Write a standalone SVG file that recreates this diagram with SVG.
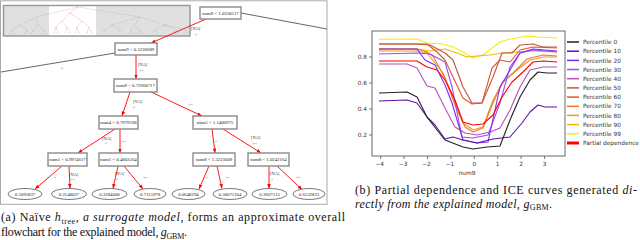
<svg xmlns="http://www.w3.org/2000/svg" width="640" height="240" viewBox="0 0 640 240">
<style>
.nb{fill:#fff;stroke:#8a8a8a;stroke-width:1.4}
.lf{fill:#fff;stroke:#555;stroke-width:0.8}
.nt{font-family:"Liberation Serif",serif;font-size:4.8px;fill:#222;text-anchor:middle}
.el{font-family:"Liberation Serif",serif;font-size:4.4px;fill:#333}
.ra{stroke:#f00;stroke-width:0.9;fill:none;marker-end:url(#ar)}
.gl{stroke:#555;stroke-width:0.9;fill:none}
.td{stroke:#a8a8a8;stroke-width:0.5;fill:none;stroke-dasharray:1 0.8}
.tr{stroke:#e87070;stroke-width:0.5;fill:none;stroke-dasharray:1 0.8}
.ax{font-family:"DejaVu Sans",sans-serif;font-size:5.8px;fill:#333}
.lg{font-family:"DejaVu Sans",sans-serif;font-size:5.8px;fill:#333}
.cv{fill:none;stroke-width:1.1;stroke-linejoin:round}
.cap{font-family:"Liberation Serif",serif;font-size:12px;fill:#111}
.it{font-style:italic}
.sb{font-size:8px}
</style>
<defs>
<marker id="ar" viewBox="0 0 10 10" refX="10" refY="5" markerWidth="4.5" markerHeight="4.5" markerUnits="userSpaceOnUse" orient="auto"><path d="M0,1 L10,5 L0,9z" fill="#f00"/></marker>
</defs>

<!-- left panel frame -->
<rect x="0.5" y="0.8" width="326.5" height="203.5" fill="#fff" stroke="#aaa" stroke-width="1"/>

<!-- thumbnail overview -->
<g id="thumbnail">
<rect x="3.5" y="5.5" width="186.5" height="30.5" fill="#e0e0e0" stroke="#9a9a9a" stroke-width="1.5"/>
<rect x="49" y="6.5" width="47" height="28.6" fill="#fff"/>
<path class="td" d="M78,7 L36,17 M78,7 L140,17 M36,17 L20,25 M36,17 L38,25 M140,17 L112,25 M140,17 L165,25 M20,25 L12,30 M20,25 L27,30 M38,25 L33,30 M38,25 L44,30 M112,25 L104,30 M112,25 L120,30 M165,25 L155,30 M165,25 L176,30 M12,30 L9,34 M12,30 L15,34 M27,30 L24,34 M27,30 L30,34 M33,30 L31,34 M33,30 L36,34 M44,30 L41,34 M44,30 L47,34 M104,30 L101,34 M104,30 L107,34 M120,30 L117,34 M120,30 L123,34 M155,30 L151,34 M155,30 L158,34 M176,30 L172,34 M176,30 L180,34 M140,17 L135,25 M135,25 L131,30 M135,25 L140,30 M131,30 L129,34 M131,30 L133,34 M140,30 L138,34 M140,30 L143,34 M165,25 L186,30 M186,30 L184,34 M186,30 L188,34"/>
<path class="tr" d="M78,7 L70,13 M70,13 L62,21 M70,13 L82,21 M62,21 L56,27 M62,21 L67,27 M82,21 L77,27 M82,21 L89,27 M56,27 L54,33 M56,27 L58,33 M67,27 L65,33 M67,27 L70,33 M77,27 L75,33 M77,27 L79,33 M89,27 L87,33 M89,27 L92,33"/>
</g>

<!-- connectors -->
<g id="connectors">
<line class="gl" x1="241" y1="13" x2="327" y2="29"/>
<line class="gl" x1="115" y1="53" x2="1" y2="72"/>
<line class="ra" x1="206" y1="19" x2="151" y2="43"/>
<line class="ra" x1="136" y1="55" x2="136" y2="79"/>
<line class="ra" x1="130" y1="92" x2="122" y2="116"/>
<line class="ra" x1="151" y1="92" x2="202" y2="116"/>
<line class="ra" x1="115" y1="129" x2="78" y2="153"/>
<line class="ra" x1="120" y1="129" x2="120" y2="153"/>
<line class="ra" x1="212" y1="129" x2="215" y2="153"/>
<line class="ra" x1="223" y1="129" x2="261" y2="153"/>
<line class="ra" x1="62" y1="166" x2="35" y2="189"/>
<line class="ra" x1="69" y1="166" x2="70" y2="188.5"/>
<line class="ra" x1="118" y1="166" x2="113" y2="188.5"/>
<line class="ra" x1="124" y1="166" x2="143" y2="189"/>
<line class="ra" x1="209" y1="166" x2="199" y2="189"/>
<line class="ra" x1="217" y1="166" x2="222" y2="188.5"/>
<line class="ra" x1="269" y1="166" x2="269" y2="188.5"/>
<line class="ra" x1="277" y1="166" x2="302" y2="189.5"/>
<g class="el">
<text x="191" y="29.5">[NA]</text><text x="195" y="35.5">&lt;</text>
<text x="61" y="69.5">&lt;</text>
<text x="138" y="65.5">[NA]</text><text x="139" y="71.5">&gt;=</text>
<text x="133" y="102.5">[NA]</text><text x="133" y="108.5">&lt;</text>
<text x="188" y="105.5">&gt;=</text>
<text x="102" y="139.5">[NA]</text><text x="105" y="144.5">&lt;</text>
<text x="121" y="142.5">&gt;=</text>
<text x="215" y="142.5">&lt;</text>
<text x="251" y="138.5">[NA]</text><text x="252" y="144.5">&gt;=</text>
<text x="54" y="178.5">&lt;</text>
<text x="69" y="175.5">[NA]</text><text x="70" y="180.5">&gt;=</text>
<text x="115" y="174.5">[NA]</text><text x="116" y="180.5">&lt;</text>
<text x="143" y="178.5">&gt;=</text>
<text x="206" y="178.5">&lt;</text>
<text x="225" y="178.5">&gt;=</text>
<text x="270" y="174.5">[NA]</text><text x="271" y="180.5">&lt;</text>
<text x="296" y="178.5">&gt;=</text>
</g>
</g>

<!-- decision nodes -->
<g id="n-root"><rect class="nb" x="200" y="7" width="41" height="12"/><text class="nt" x="220.5" y="14.7">num9 &lt; 1.0358517</text></g>
<g id="n-2"><rect class="nb" x="115" y="43" width="42" height="12"/><text class="nt" x="136" y="50.7">num9 &lt; 0.5220689</text></g>
<g id="n-3"><rect class="nb" x="114" y="79" width="43" height="13"/><text class="nt" x="135.5" y="87.2">num9 &lt; 0.72660717</text></g>
<g id="n-4"><rect class="nb" x="99" y="116" width="39" height="13"/><text class="nt" x="118.5" y="124.2">num4 &lt; 0.7979568</text></g>
<g id="n-5"><rect class="nb" x="193" y="116" width="44" height="13"/><text class="nt" x="215" y="124.2">num5 &lt;  1.1400975</text></g>
<g id="n-6"><rect class="nb" x="48" y="153" width="39" height="13"/><text class="nt" x="67.5" y="161.2">num1 &lt; 0.9974617</text></g>
<g id="n-7"><rect class="nb" x="99" y="153" width="39" height="13"/><text class="nt" x="118.5" y="161.2">num1 &lt; 0.4803564</text></g>
<g id="n-8"><rect class="nb" x="193" y="153" width="42" height="13"/><text class="nt" x="214" y="161.2">num8 &lt;  1.5223009</text></g>
<g id="n-9"><rect class="nb" x="248" y="153" width="41" height="13"/><text class="nt" x="268.5" y="161.2">num8 &lt; 1.0242164</text></g>

<!-- leaves -->
<g id="leaf-1"><ellipse class="lf" cx="25" cy="194" rx="17" ry="5.5"/><text class="nt" x="25" y="195.7">0.1095837</text></g>
<g id="leaf-2"><ellipse class="lf" cx="69" cy="194" rx="17.5" ry="5.5"/><text class="nt" x="69" y="195.7">0.2148027</text></g>
<g id="leaf-3"><ellipse class="lf" cx="109.5" cy="194" rx="17.5" ry="5.5"/><text class="nt" x="109.5" y="195.7">0.2284008</text></g>
<g id="leaf-4"><ellipse class="lf" cx="150" cy="194" rx="16" ry="5.5"/><text class="nt" x="150" y="195.7">0.7115978</text></g>
<g id="leaf-5"><ellipse class="lf" cx="188.5" cy="194" rx="16.5" ry="5.5"/><text class="nt" x="188.5" y="195.7">0.0648294</text></g>
<g id="leaf-6"><ellipse class="lf" cx="230" cy="194" rx="17" ry="5.5"/><text class="nt" x="230" y="195.7">0.58075104</text></g>
<g id="leaf-7"><ellipse class="lf" cx="269.5" cy="194" rx="17.5" ry="5.5"/><text class="nt" x="269.5" y="195.7">0.3667513</text></g>
<g id="leaf-8"><ellipse class="lf" cx="309" cy="194" rx="16" ry="5.5"/><text class="nt" x="309" y="195.7">0.6132823</text></g>

<!-- caption a -->
<text class="cap" x="1" y="221" textLength="344" lengthAdjust="spacing">(a) Naïve <tspan class="it">h</tspan><tspan class="sb" dy="2.5">tree</tspan><tspan dy="-2.5">, </tspan><tspan class="it">a surrogate model</tspan>, forms an approximate overall</text>
<text class="cap" x="1" y="236" textLength="186" lengthAdjust="spacing">flowchart for the explained model, <tspan class="it">g</tspan><tspan class="sb" dy="2.5">GBM</tspan><tspan dy="-2.5">.</tspan></text>

<!-- chart -->
<g id="chart">
<rect x="372" y="31" width="193" height="125" fill="#fff" stroke="#444" stroke-width="0.8"/>
<path d="M369,57H372M369,83H372M369,109H372M369,135H372M380.7,156V159M404.1,156V159M427.5,156V159M450.9,156V159M474.3,156V159M497.7,156V159M521.1,156V159M544.5,156V159" stroke="#444" stroke-width="0.7"/>
<g class="ax" text-anchor="end">
<text x="367" y="59">0.8</text><text x="367" y="85">0.6</text><text x="367" y="111">0.4</text><text x="367" y="137">0.2</text>
</g>
<g class="ax" text-anchor="middle">
<text x="379.7" y="166">−4</text><text x="403.1" y="166">−3</text><text x="426.5" y="166">−2</text><text x="449.9" y="166">−1</text><text x="474.3" y="166">0</text><text x="497.7" y="166">1</text><text x="521.1" y="166">2</text><text x="544.5" y="166">3</text>
<text x="467" y="174.5">num9</text>
</g>
<polyline class="cv" stroke="#f7ef00" points="379,39.3 417,39 427,43 443,44 453,47 463,52 473,58 483,55 500,42 510,39 527,36 537,37 557,38"/>
<polyline class="cv" stroke="#f2b800" points="379,49 417,49 430,51 445,49 457,53 467,57 477,56 490,55 503,53 517,52 530,51 557,52"/>
<polyline class="cv" stroke="#ee9a20" points="379,51 417,51 427,53 443,73 453,97 463,123 473,130 483,127 493,100 503,82 517,70 530,60 543,57 557,57"/>
<polyline class="cv" stroke="#e87a30" points="379,49 417,49 427,52 433,56 445,78 455,105 465,127 473,132 483,128 493,103 502,83 513,73 527,59 543,55 557,56"/>
<polyline class="cv" stroke="#d85a2a" points="379,44 427,44 437,52 445,60 453,77 463,98 472,104 482,103 492,68 500,60 510,62 520,50 533,47 557,48"/>
<polyline class="cv" stroke="#c4553f" points="379,44 417,44 430,45 445,53 453,60 463,87 472,103 482,103 493,77 502,53 512,53 520,45 533,44 543,47 557,47"/>
<polyline class="cv" stroke="#b850b8" points="379,64 407,64 417,68 427,86 435,88 445,108 455,127 465,133 477,135 490,132 500,128 510,110 520,87 530,70 543,67 557,67"/>
<polyline class="cv" stroke="#a04cf5" points="379,54 417,53 430,54 445,62 452,87 462,137 473,138 488,135 500,103 510,67 520,53 533,50 557,52"/>
<polyline class="cv" stroke="#7f2af0" points="379,49 417,49 425,60 435,65 445,85 452,103 463,140 477,143 488,142 500,87 510,70 520,53 533,49 557,51"/>
<polyline class="cv" stroke="#5d12a8" points="379,101 407,100 417,103 427,117 435,125 445,139 453,137 463,140 477,143 493,139 510,137 522,123 530,112 538,105 545,107 557,107"/>
<polyline class="cv" stroke="#222" points="379,93 407,92 417,97 427,117 437,130 445,140 463,147 473,149 487,147 500,146 510,120 520,97 530,80 538,72 547,73 557,73"/>
<polyline class="cv" stroke="#f00" stroke-width="2.4" points="379,61 417,61 427,67 437,70 445,80 455,100 463,122 473,125 483,124 493,115 502,97 512,82 523,72 533,62 543,61 557,62"/>
</g>

<!-- legend -->
<g id="legend">
<g stroke-width="1.5">
<line x1="567" y1="42" x2="579" y2="42" stroke="#222"/>
<line x1="567" y1="51.2" x2="579" y2="51.2" stroke="#5d12a8"/>
<line x1="567" y1="60.4" x2="579" y2="60.4" stroke="#7f2af0"/>
<line x1="567" y1="69.5" x2="579" y2="69.5" stroke="#a04cf5"/>
<line x1="567" y1="78.7" x2="579" y2="78.7" stroke="#b850b8"/>
<line x1="567" y1="87.9" x2="579" y2="87.9" stroke="#c4553f"/>
<line x1="567" y1="97.1" x2="579" y2="97.1" stroke="#d85a2a"/>
<line x1="567" y1="106.3" x2="579" y2="106.3" stroke="#e87a30"/>
<line x1="567" y1="115.4" x2="579" y2="115.4" stroke="#ee9a20"/>
<line x1="567" y1="124.6" x2="579" y2="124.6" stroke="#f2b800"/>
<line x1="567" y1="133.8" x2="579" y2="133.8" stroke="#f7ef00"/>
<line x1="567" y1="143" x2="579" y2="143" stroke="#f00" stroke-width="3"/>
</g>
<g class="lg">
<text x="583" y="44.1">Percentile 0</text>
<text x="583" y="53.3">Percentile 10</text>
<text x="583" y="62.5">Percentile 20</text>
<text x="583" y="71.6">Percentile 30</text>
<text x="583" y="80.8">Percentile 40</text>
<text x="583" y="90">Percentile 50</text>
<text x="583" y="99.2">Percentile 60</text>
<text x="583" y="108.4">Percentile 70</text>
<text x="583" y="117.5">Percentile 80</text>
<text x="583" y="126.7">Percentile 90</text>
<text x="583" y="135.9">Percentile 99</text>
<text x="583" y="145.1">Partial dependence</text>
</g>
</g>

<!-- caption b -->
<text class="cap" x="355" y="193.5" textLength="282" lengthAdjust="spacing">(b) Partial dependence and ICE curves generated <tspan class="it">di-</tspan></text>
<text class="cap" x="355" y="207.5" textLength="197" lengthAdjust="spacing"><tspan class="it">rectly from the explained model</tspan>, <tspan class="it">g</tspan><tspan class="sb" dy="2.5">GBM</tspan><tspan dy="-2.5">.</tspan></text>
</svg>
